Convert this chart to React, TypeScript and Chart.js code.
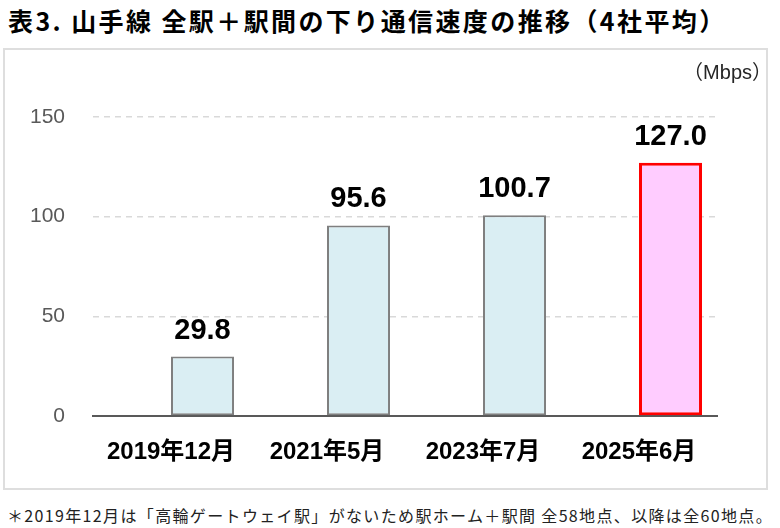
import React, { useEffect, useRef } from "react";
import { Chart, registerables } from "chart.js";

Chart.register(...registerables);

const categories = ["2019年12月", "2021年5月", "2023年7月", "2025年6月"];
const speeds = [29.8, 95.6, 100.7, 127.0];
const spacerSeries = [null, null, null, null];
const yTickValues = [0, 50, 100, 150];
const titleText = "表3. 山手線 全駅＋駅間の下り通信速度の推移（4社平均）";
const unitText = "（Mbps）";
const footnoteText =
  "＊2019年12月は「高輪ゲートウェイ駅」がないため駅ホーム＋駅間 全58地点、以降は全60地点。";

const LATIN = '"Liberation Sans", Arial, "Noto Sans CJK JP", sans-serif';
const CJK = '"Noto Sans CJK JP", "Liberation Sans", sans-serif';

const valueLabels = {
  id: "valueLabels",
  afterDatasetsDraw(chart: any) {
    const meta = chart.getDatasetMeta(1);
    const ctx = chart.ctx;
    ctx.save();
    ctx.font = `bold 29px ${LATIN}`;
    ctx.fillStyle = "#000000";
    ctx.textAlign = "center";
    ctx.textBaseline = "alphabetic";
    meta.data.forEach((bar: any, i: number) => {
      ctx.fillText(speeds[i].toFixed(1), bar.x, bar.y - 18);
    });
    ctx.restore();
  },
};

function SpeedChart() {
  const ref = useRef<HTMLCanvasElement | null>(null);
  useEffect(() => {
    if (!ref.current) return;
    const last = speeds.length - 1;
    const chart = new Chart(ref.current, {
      type: "bar",
      data: {
        labels: categories,
        datasets: [
          {
            label: "spacer",
            data: spacerSeries as any,
            backgroundColor: "rgba(0,0,0,0)",
            borderWidth: 0,
            categoryPercentage: 0.808,
            barPercentage: 1.0,
          },
          {
            label: "下り通信速度",
            data: speeds,
            backgroundColor: (c: any) => (c.dataIndex === last ? "#FFCCFF" : "#DAEEF3"),
            borderColor: (c: any) => (c.dataIndex === last ? "#FF0000" : "#7F7F7F"),
            borderWidth: (c: any) => (c.dataIndex === last ? 3 : 2),
            borderSkipped: false,
            categoryPercentage: 0.808,
            barPercentage: 1.0,
          },
        ],
      },
      options: {
        responsive: false,
        animation: false,
        layout: { padding: { top: 67, right: 49, left: 0, bottom: 0 } },
        plugins: {
          legend: { display: false },
          tooltip: { enabled: false },
          title: { display: false },
        },
        scales: {
          x: {
            grid: { display: false, drawTicks: false },
            border: { display: true, color: "#595959", width: 2 },
            ticks: {
              padding: 22,
              color: "#000000",
              font: { family: LATIN, size: 24, weight: "bold" },
              maxRotation: 0,
            },
            afterFit: (s: any) => {
              s.height = 72;
            },
          },
          y: {
            min: 0,
            max: 150,
            afterBuildTicks: (s: any) => {
              s.ticks = yTickValues.map((v) => ({ value: v }));
            },
            grid: {
              drawTicks: false,
              color: (c: any) => (c.tick && c.tick.value === 0 ? "rgba(0,0,0,0)" : "#D9D9D9"),
              lineWidth: 1.5,
            },
            border: { display: false, dash: [6, 5] },
            ticks: {
              padding: 28,
              color: "#595959",
              font: { family: LATIN, size: 21 },
            },
            afterFit: (s: any) => {
              s.width = 88;
            },
          },
        },
      },
      plugins: [valueLabels],
    });
    return () => chart.destroy();
  }, []);
  return (
    <canvas
      ref={ref}
      width={761}
      height={438}
      style={{ position: "absolute", left: 5, top: 50, width: 761, height: 438 }}
    />
  );
}

export default function App() {
  return (
    <div
      style={{
        position: "absolute",
        left: 0,
        top: 0,
        width: 780,
        height: 528,
        background: "#ffffff",
        overflow: "hidden",
      }}
    >
      <div
        style={{
          position: "absolute",
          left: 8,
          top: 8,
          fontFamily: CJK,
          fontWeight: 700,
          fontSize: 25,
          lineHeight: "25px",
          letterSpacing: 2.4,
          whiteSpace: "nowrap",
          color: "#000000",
        }}
      >
        {titleText}
      </div>
      <div
        style={{
          position: "absolute",
          left: 3,
          top: 48,
          width: 765,
          height: 442,
          boxSizing: "border-box",
          border: "2px solid #DEDEDE",
        }}
      />
      <SpeedChart />
      <div
        style={{
          position: "absolute",
          right: 8,
          top: 62,
          fontFamily: LATIN,
          fontSize: 20,
          lineHeight: "20px",
          color: "#262626",
          whiteSpace: "nowrap",
        }}
      >
        {unitText}
      </div>
      <div
        style={{
          position: "absolute",
          left: 7,
          top: 507,
          fontFamily: CJK,
          fontSize: 16,
          lineHeight: "16px",
          letterSpacing: 1.35,
          whiteSpace: "nowrap",
          color: "#222222",
        }}
      >
        {footnoteText}
      </div>
    </div>
  );
}
